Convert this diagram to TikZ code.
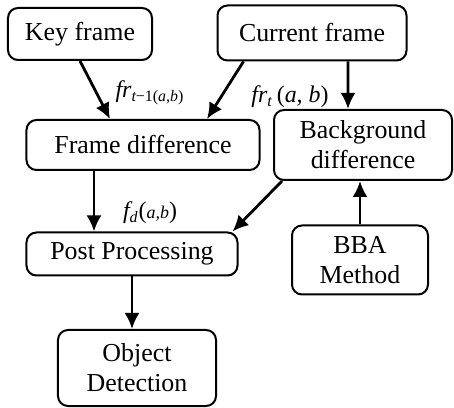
\documentclass[tikz,border=0pt]{standalone}
\usepackage{fontspec}
\setmainfont{Liberation Serif}
\usetikzlibrary{arrows.meta}
\tikzset{font=\fontsize{13}{15}\selectfont}

\begin{document}
\begin{tikzpicture}
  [x=0.5bp, y=-0.5bp,
  block/.style ={rectangle, draw=black, line width=1bp, align=center, rounded corners=5bp, inner sep=1pt},
  line/.style ={draw, line width=1.4bp, -{Latex[length=8bp,width=7.5bp]}},
  flow/.style ={font=\fontsize{12}{13}\selectfont\itshape, inner sep=0pt}]
  \useasboundingbox (0,0) rectangle (454,408);
  % inputs
  \node [block, minimum width=72bp, minimum height=26bp] (key) at (80,34) {Key frame};
  \node [block, minimum width=94.5bp, minimum height=27.5bp] (cur) at (312,33) {Current frame};
  % differences
  \node [block, minimum width=116.5bp, minimum height=25bp] (fdiff) at (143,145) {Frame difference};
  \node [block, minimum width=89bp, minimum height=35bp] (bgdiff) at (363,145) {Background\\difference};
  \node [block, minimum width=68bp, minimum height=34.5bp] (bba) at (360,260) {BBA\\Method};
  % output
  \node [block, minimum width=105.5bp, minimum height=21.5bp] (post) at (132,254) {Post Processing};
  \node [block, minimum width=79bp, minimum height=38bp] (obj) at (137,368) {Object\\Detection};
  % flow labels
  \node [flow] (keyflow) at (150,93) {fr\textsubscript{t{\upshape −1(}a,b{\upshape )}}};
  \node [flow] (curflow) at (290,97) {fr\textsubscript{t}\,{\upshape(}a, b{\upshape)}};
  \node [flow] (diffflow) at (150,213) {f\textsubscript{d}{\upshape(}{\small a,b}{\upshape)}};

  \begin{scope}[every path/.style=line]
    \path (key.south) -- ([xshift=-16.5bp]fdiff.north);
    \path ([xshift=13.5bp]cur.south west) -- ([xshift=32bp]fdiff.north);
    \path ([xshift=18bp]cur.south) -- ([xshift=-7.5bp]bgdiff.north);
    \path ([xshift=-24.5bp]fdiff.south) -- ([xshift=-24.5bp]fdiff.south |- post.north);
    \path ([xshift=4.5bp]bgdiff.south west) -- ([xshift=-3bp]post.north east);
    \path (bba.north) -- (bba.north |- bgdiff.south);
    \path (post.south) -- (post.south |- obj.north);
  \end{scope}
\end{tikzpicture}
\end{document}
